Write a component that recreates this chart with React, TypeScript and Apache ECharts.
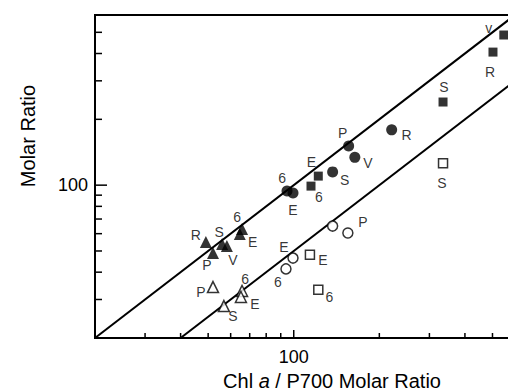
import React, { useEffect, useRef } from "react";
import * as echarts from "echarts";

// Axis ranges and tick values
const xMin = 20;
const xMax = 600;
const yMin = 20;
const yMax = 600;
const xTicks = [30, 40, 50, 60, 70, 80, 90, 100, 200, 300, 400, 500];
const yTicks = [30, 40, 50, 60, 70, 80, 90, 100, 200, 300, 400, 500];
const majorTick = 100;
const ratioLines = [1, 0.5];

// Filled circles
const fcX = [94.7, 99.4, 137, 156, 164, 221];
const fcY = [94.0, 92.0, 115, 151, 134, 179];
const fcL = ["6", "E", "S", "P", "V", "R"];
// Filled squares
const fsX = [122, 115, 335, 502, 548];
const fsY = [110, 99, 240, 406, 486];
const fsL = ["E", "6", "S", "R", "v"];
// Filled triangles
const ftX = [49.1, 56.0, 58.2, 52.0, 65.8, 64.6];
const ftY = [55.0, 53.8, 52.7, 49.0, 63.0, 59.8];
const ftL = ["R", "S", "V", "P", "6", "E"];
// Open triangles
const otX = [52.0, 65.8, 65.2, 56.8];
const otY = [34.2, 32.8, 30.8, 28.0];
const otL = ["P", "6", "E", "S"];
// Open circles
const ocX = [137, 155, 99.4, 93.9];
const ocY = [65.0, 60.4, 46.4, 41.4];
const ocL = ["", "P", "E", "6"];
// Open squares
const osX = [114, 122, 335];
const osY = [48.0, 33.2, 126];
const osL = ["E", "6", "S"];

// Label offsets (layout only)
const fcOff = [[-5, -13], [0, 17], [12, 8], [-6, -13], [13, 6], [15, 5]];
const fsOff = [[-7, -14], [8, 11], [1, -15], [-3, 20], [-15, -7]];
const ftOff = [[-10, -7], [-3, -12], [6, 14], [-6, 12], [-5, -12], [13, 8]];
const otOff = [[-12, 5], [3, -12], [14, 7], [9, 10]];
const ocOff = [[0, 0], [15, -11], [-9, -11], [-8, 13]];
const osOff = [[13, 5], [11, 7], [-1, 20]];

const FONT = "'Liberation Sans', Arial, Helvetica, sans-serif";

function buildPoints(xs: number[], ys: number[], ls: string[], offs: number[][]) {
  return xs.map((x, i) => ({
    value: [x, ys[i]],
    label: {
      show: ls[i] !== "",
      formatter: ls[i],
      position: "inside",
      offset: offs[i],
      color: "#000",
      fontSize: 14,
      fontFamily: FONT,
    },
  }));
}

function scatter(
  name: string,
  symbol: string,
  size: number,
  filled: boolean,
  xs: number[],
  ys: number[],
  ls: string[],
  offs: number[][]
) {
  return {
    name,
    type: "scatter",
    symbol,
    symbolSize: size,
    z: 5,
    itemStyle: filled
      ? { color: "#000" }
      : { color: "#fff", borderColor: "#000", borderWidth: 1.5 },
    data: buildPoints(xs, ys, ls, offs),
  };
}

export default function App() {
  const ref = useRef<HTMLDivElement>(null);
  useEffect(() => {
    if (!ref.current) return;
    const chart = echarts.init(ref.current, undefined, { renderer: "svg" });

    const lineSeries = ratioLines.map((r, i) => {
      const startX = Math.max(xMin, yMin / r);
      return {
        name: "ratio" + i,
        type: "line",
        showSymbol: false,
        symbol: "none",
        clip: true,
        z: 2,
        lineStyle: { color: "#000", width: 2 },
        data: [
          [startX, startX * r],
          [xMax, xMax * r],
        ],
      };
    });

    const option: any = {
      animation: false,
      grid: {
        left: 95,
        top: 15,
        width: 420,
        height: 323,
        show: true,
        borderColor: "#000",
        borderWidth: 2,
        backgroundColor: "transparent",
        containLabel: false,
        outerBoundsMode: "none",
      },
      xAxis: {
        type: "log",
        logBase: 10,
        min: xMin,
        max: xMax,
        axisLine: { show: false },
        axisTick: { show: false },
        splitLine: { show: false },
        minorTick: { show: false },
        axisLabel: {
          formatter: (v: number) => (Math.abs(v - majorTick) < 1e-6 ? "100" : ""),
          fontSize: 18,
          color: "#000",
          fontFamily: FONT,
          margin: 10,
        },
      },
      yAxis: {
        type: "log",
        logBase: 10,
        min: yMin,
        max: yMax,
        axisLine: { show: false },
        axisTick: { show: false },
        splitLine: { show: false },
        minorTick: { show: false },
        axisLabel: {
          formatter: (v: number) => (Math.abs(v - majorTick) < 1e-6 ? "100" : ""),
          fontSize: 18,
          color: "#000",
          fontFamily: FONT,
          margin: 7,
          verticalAlign: "middle",
          padding: [8, 0, 0, 0],
        },
      },
      graphic: [
        {
          type: "text",
          x: 28,
          y: 136,
          rotation: Math.PI / 2,
          style: {
            text: "Molar Ratio",
            fontSize: 20,
            fontFamily: FONT,
            fill: "#000",
            textAlign: "center",
            textVerticalAlign: "middle",
          },
        },
        {
          type: "text",
          x: 332,
          y: 381,
          style: {
            text: "{n|Chl }{i|a}{n| / P700 Molar Ratio}",
            rich: {
              n: { fontSize: 20, fontFamily: FONT, fill: "#000" },
              i: { fontSize: 20, fontFamily: FONT, fontStyle: "italic", fill: "#000" },
            },
            fontSize: 20,
            fontFamily: FONT,
            fill: "#000",
            textAlign: "center",
            textVerticalAlign: "middle",
          },
        },
      ],
      series: [
        ...lineSeries,
        {
          name: "xticks",
          type: "custom",
          z: 3,
          data: xTicks.map((v) => [v, yMin]),
          encode: { x: 0, y: 1 },
          renderItem: (params: any, api: any) => {
            const v = api.value(0);
            const p = api.coord([v, yMin]);
            const len = Math.abs(v - majorTick) < 1e-6 ? 8 : 5;
            return {
              type: "line",
              shape: { x1: p[0], y1: p[1], x2: p[0], y2: p[1] - len },
              style: { stroke: "#000", lineWidth: 1.5 },
            };
          },
        },
        {
          name: "yticks",
          type: "custom",
          z: 3,
          data: yTicks.map((v) => [xMin, v]),
          encode: { x: 0, y: 1 },
          renderItem: (params: any, api: any) => {
            const v = api.value(1);
            const p = api.coord([xMin, v]);
            const len = Math.abs(v - majorTick) < 1e-6 ? 12 : 7;
            return {
              type: "line",
              shape: { x1: p[0], y1: p[1], x2: p[0] + len, y2: p[1] },
              style: { stroke: "#000", lineWidth: 1.5 },
            };
          },
        },
        scatter("filledCircle", "circle", 11, true, fcX, fcY, fcL, fcOff),
        scatter("filledSquare", "rect", 9, true, fsX, fsY, fsL, fsOff),
        scatter("filledTriangle", "triangle", 12, true, ftX, ftY, ftL, ftOff),
        scatter("openTriangle", "triangle", 11, false, otX, otY, otL, otOff),
        scatter("openCircle", "circle", 10, false, ocX, ocY, ocL, ocOff),
        scatter("openSquare", "rect", 9, false, osX, osY, osL, osOff),
      ],
    };
    chart.setOption(option);
    return () => chart.dispose();
  }, []);

  return (
    <div
      ref={ref}
      style={{ position: "fixed", left: 0, top: 0, width: 508, height: 392, background: "#fff" }}
    />
  );
}
